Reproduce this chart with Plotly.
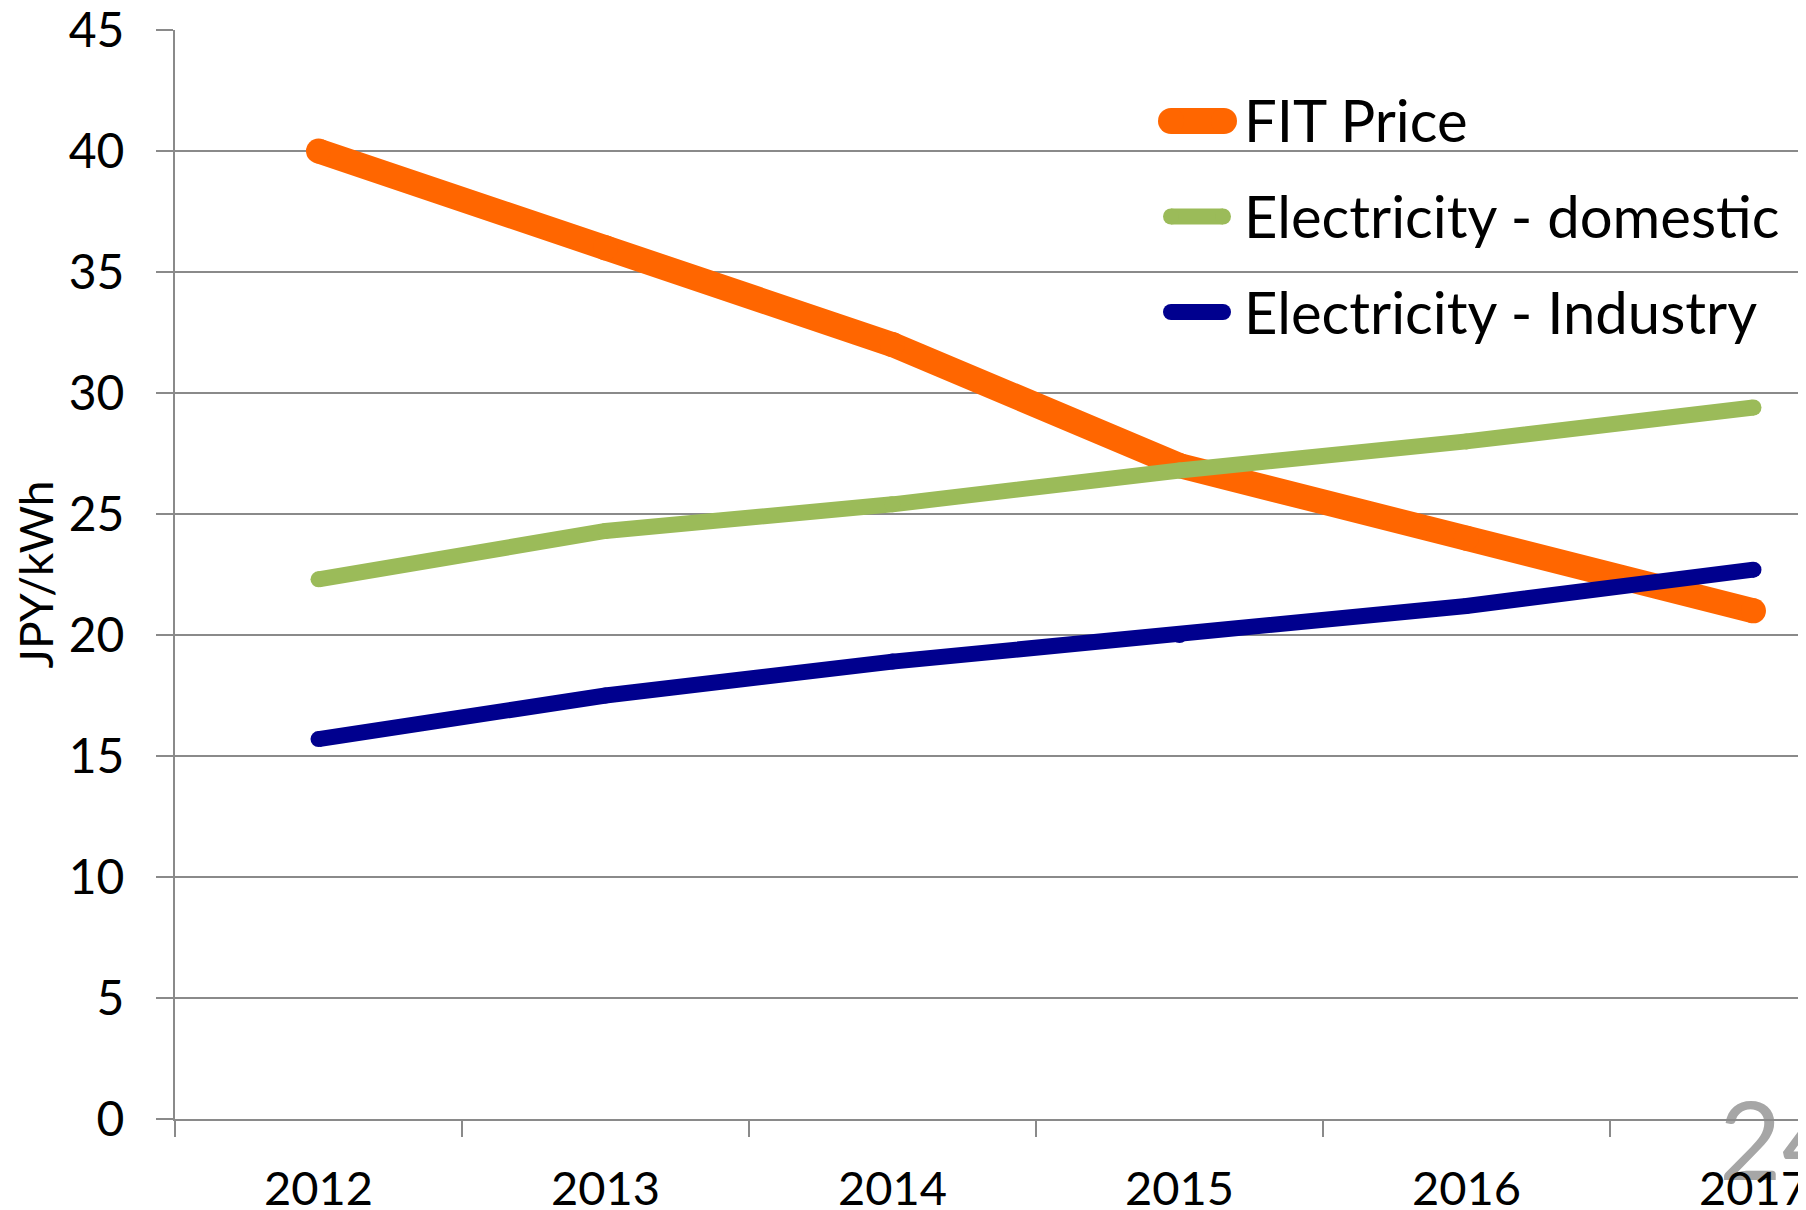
import plotly.graph_objects as go

years = ["2012", "2013", "2014", "2015", "2016", "2017"]
fit_price = [40.0, 36.0, 32.0, 27.0, 24.0, 21.0]
elec_domestic = [22.3, 24.3, 25.4, 26.8, 28.0, 29.4]
elec_industry = [15.7, 17.5, 18.9, 20.0, 21.2, 22.7]

series_names = ["FIT Price", "Electricity - domestic", "Electricity - Industry"]
series_values = [fit_price, elec_domestic, elec_industry]
series_colors = ["#FF6600", "#9BBB59", "#00008E"]
series_widths = [25, 16, 16]

FONT = "Lato"
GRID = "#8a8a8a"

# page layout (the html body adds an 8px offset)
OFF = 8
FIG_W, FIG_H = 1806 - OFF, 1210 - OFF
PLOT_L, PLOT_T, PLOT_B, PLOT_R = 175, 30, 1119, 1806  # page pixels


def px(X):
    return (X - PLOT_L) / (PLOT_R - PLOT_L)


def py(Y):
    return (PLOT_B - Y) / (PLOT_B - PLOT_T)


fig = go.Figure()
for name, vals, col, w in zip(series_names, series_values, series_colors, series_widths):
    fig.add_trace(go.Scatter(
        x=years, y=vals, name=name, mode="lines",
        line=dict(color=col, width=w), showlegend=False,
    ))
    # round caps at line ends / joins
    fig.add_trace(go.Scatter(
        x=years, y=vals, mode="markers", showlegend=False,
        marker=dict(color=col, size=w, line=dict(width=0)),
        hoverinfo="skip",
    ))

# legend (thick rounded keys like the reference)
legend_rows_y = [121, 216.5, 312]
legend_key_x = [(1158, 1237), (1163, 1231), (1163, 1231)]
legend_key_w = [26, 16, 16]
shapes = []
for name, col, cy, (x0, x1), w in zip(series_names, series_colors, legend_rows_y, legend_key_x, legend_key_w):
    r = w / 2
    shapes.append(dict(type="line", xref="paper", yref="paper",
                       x0=px(x0 + r), x1=px(x1 - r), y0=py(cy), y1=py(cy),
                       line=dict(color=col, width=w)))
    for cx in (x0 + r, x1 - r):
        shapes.append(dict(type="circle", xref="paper", yref="paper",
                           x0=px(cx - r), x1=px(cx + r), y0=py(cy - r), y1=py(cy + r),
                           fillcolor=col, line=dict(width=0)))
    fig.add_annotation(
        text=name, xref="paper", yref="paper", x=px(1242), y=py(cy - 1),
        xanchor="left", yanchor="middle", showarrow=False,
        font=dict(family=FONT, size=58, color="black"),
    )

# slide number, drawn below the axis labels
shapes.append(dict(
    type="rect", xref="paper", yref="paper", layer="below",
    x0=px(1716), x1=px(1900), y0=py(1178), y1=py(1096),
    fillcolor="rgba(0,0,0,0)", line=dict(width=0),
    label=dict(text="24", textposition="middle left",
               font=dict(family=FONT, size=108, color="#a6a6a6"), padding=0),
))

fig.update_layout(
    width=FIG_W, height=FIG_H,
    margin=dict(l=PLOT_L - OFF, r=0, t=PLOT_T - OFF, b=FIG_H - (PLOT_B - OFF)),
    paper_bgcolor="white", plot_bgcolor="white",
    font=dict(family=FONT, color="black"),
    showlegend=False,
    shapes=shapes,
    xaxis=dict(
        type="category", range=[-0.5, 5.183], automargin=False,
        tickson="boundaries", ticks="outside", ticklen=16, tickwidth=2, tickcolor=GRID,
        showgrid=False, showline=True, linecolor=GRID, linewidth=2,
        tickfont=dict(family=FONT, size=47, color="black"),
        ticklabelstandoff=28, ticklabeloverflow="allow",
    ),
    yaxis=dict(
        range=[0, 45], tickmode="array", tickvals=list(range(0, 50, 5)), automargin=False,
        ticks="outside", ticklen=17, tickwidth=2, tickcolor=GRID,
        showgrid=True, gridcolor=GRID, gridwidth=2,
        zeroline=False, showline=True, linecolor=GRID, linewidth=2,
        tickfont=dict(family=FONT, size=48, color="black"),
        ticklabelstandoff=22, ticklabeloverflow="allow",
        title=dict(text="JPY/kWh", font=dict(family=FONT, size=46, color="black"), standoff=18),
    ),
)

fig.write_html("out.html")
